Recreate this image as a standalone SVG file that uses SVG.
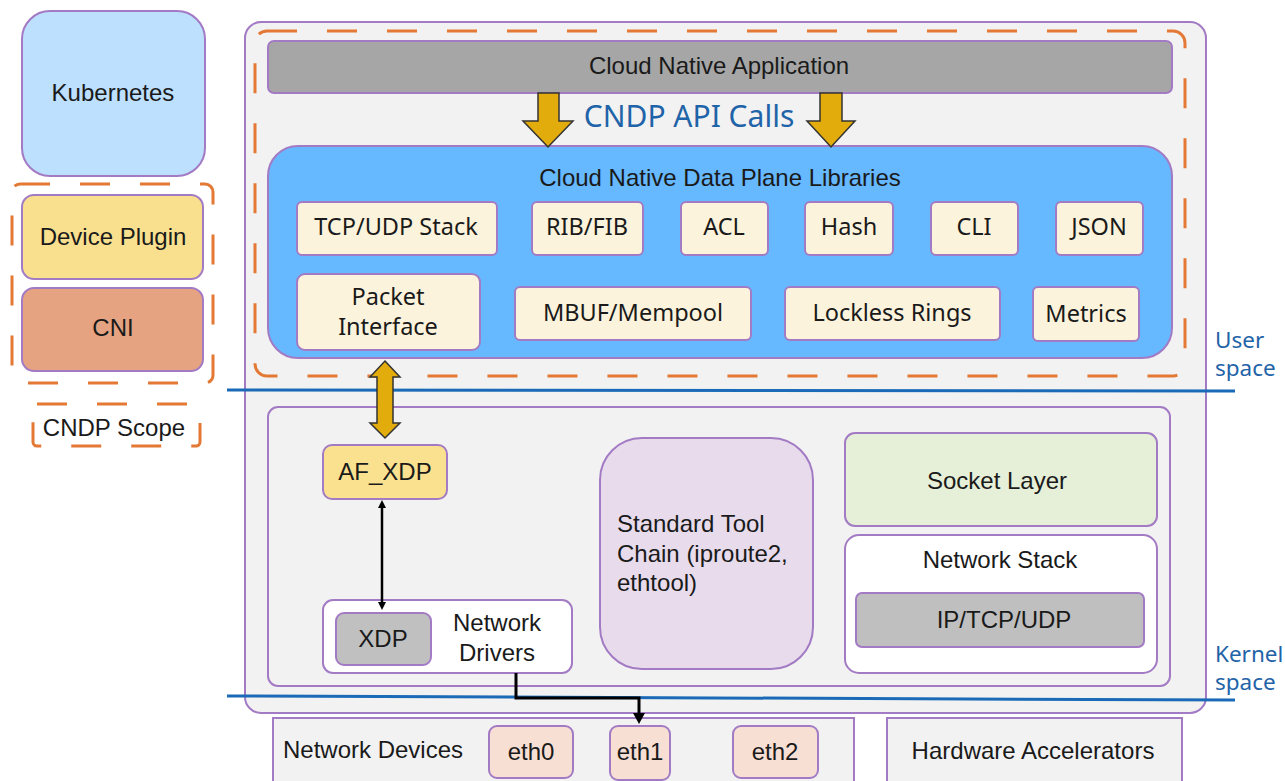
<svg xmlns="http://www.w3.org/2000/svg" width="1285" height="781" viewBox="0 0 1285 781">
  <style>
    .box { stroke: #a37bc4; stroke-width: 2; }
    .lib { fill: #fcf3dc; stroke: #a37bc4; stroke-width: 2; }
    .scope { fill: none; stroke: #e37935; stroke-width: 3; stroke-dasharray: 30 30; }
    .t { font-family: "Liberation Sans", Arial, sans-serif; font-size: 24px; fill: #1a1a1a; text-anchor: middle; }
    .ts { font-family: "Liberation Sans", Arial, sans-serif; font-size: 24px; fill: #1a1a1a; text-anchor: start; }
    .tl { font-family: "Noto Sans", "Open Sans", sans-serif; font-size: 23.5px; fill: #1a1a1a; text-anchor: middle; }
    .blue { font-family: "Noto Sans", "Open Sans", sans-serif; fill: #1f63a8; }
    .sep { stroke: #1a6ab8; stroke-width: 3; }
    .gold { fill: #e2ac0c; stroke: #333; stroke-width: 1.5; }
  </style>
  <defs>
    <marker id="ah" markerWidth="8" markerHeight="8" refX="4" refY="4" orient="auto-start-reverse" markerUnits="userSpaceOnUse">
      <path d="M0,0 L8,4 L0,8 z" fill="#000"/>
    </marker>
  </defs>
  <rect width="1285" height="781" fill="#ffffff"/>

  <!-- Orchestration column -->
  <g id="kubernetes"><rect class="box" x="22" y="11" width="183" height="165" rx="28" fill="#bde0fe"/><text class="t" x="113" y="101">Kubernetes</text></g>
  <g id="scope-frame"><rect class="scope" x="12" y="184" width="201" height="199" rx="8"/></g>
  <g id="device-plugin"><rect class="box" x="22" y="195" width="181" height="84" rx="12" fill="#f9e08f"/><text class="t" x="113" y="245">Device Plugin</text></g>
  <g id="cni"><rect class="box" x="22" y="288" width="181" height="83" rx="12" fill="#e6a381"/><text class="t" x="113" y="336">CNI</text></g>
  <g id="scope-legend"><rect class="scope" x="33" y="404" width="167" height="42" rx="4"/><text class="t" x="114" y="436">CNDP Scope</text></g>

  <!-- Host -->
  <g id="host"><rect class="box" x="245" y="22" width="961" height="691" rx="16" fill="#f2f2f2"/></g>
  <g id="user-scope"><rect class="scope" x="255" y="31" width="930" height="345" rx="12"/></g>
  <g id="app"><rect class="box" x="268" y="41" width="904" height="52" rx="6" fill="#a6a6a6"/><text class="t" x="719" y="74" font-size="27">Cloud Native Application</text></g>
  <text class="blue" x="689" y="127" font-size="30" text-anchor="middle">CNDP API Calls</text>

  <g id="libraries">
    <rect class="box" x="268" y="146" width="904" height="212" rx="30" fill="#66b8ff"/>
    <text class="t" x="720" y="186" font-size="27">Cloud Native Data Plane Libraries</text>
  </g>
  <g id="tcp-udp-stack"><rect class="lib" x="297" y="202" width="200" height="53" rx="5"/><text class="tl" x="396" y="235">TCP/UDP Stack</text></g>
  <g id="rib-fib"><rect class="lib" x="532" y="202" width="111" height="53" rx="5"/><text class="tl" x="587" y="235">RIB/FIB</text></g>
  <g id="acl"><rect class="lib" x="681" y="202" width="87" height="53" rx="5"/><text class="tl" x="724" y="235">ACL</text></g>
  <g id="hash"><rect class="lib" x="805" y="202" width="88" height="53" rx="5"/><text class="tl" x="849" y="235">Hash</text></g>
  <g id="cli"><rect class="lib" x="931" y="202" width="87" height="53" rx="5"/><text class="tl" x="974" y="235">CLI</text></g>
  <g id="json"><rect class="lib" x="1056" y="202" width="87" height="53" rx="5"/><text class="tl" x="1099" y="235">JSON</text></g>
  <g id="packet-interface"><rect class="lib" x="297" y="274" width="183" height="76" rx="8"/><text class="tl" x="388" y="305" font-size="21.5">Packet</text><text class="tl" x="388" y="335" font-size="21.5">Interface</text></g>
  <g id="mbuf-mempool"><rect class="lib" x="515" y="287" width="236" height="53" rx="5"/><text class="tl" x="633" y="321">MBUF/Mempool</text></g>
  <g id="lockless-rings"><rect class="lib" x="785" y="287" width="215" height="53" rx="5"/><text class="tl" x="892" y="321">Lockless Rings</text></g>
  <g id="metrics"><rect class="lib" x="1033" y="287" width="106" height="54" rx="5"/><text class="tl" x="1086" y="322">Metrics</text></g>

  <!-- Kernel -->
  <g id="kernel"><rect class="box" x="268" y="407" width="902" height="279" rx="10" fill="#f2f2f2"/></g>
  <g id="af-xdp"><rect class="box" x="323" y="445" width="124" height="54" rx="9" fill="#fae190"/><text class="t" x="385" y="480">AF_XDP</text></g>
  <g id="network-drivers">
    <rect class="box" x="323" y="600" width="249" height="73" rx="10" fill="#ffffff"/>
    <text class="t" x="497" y="631">Network</text><text class="t" x="497" y="661">Drivers</text>
  </g>
  <g id="xdp"><rect class="box" x="336" y="613" width="95" height="52" rx="8" fill="#c0c0c0"/><text class="t" x="383" y="647">XDP</text></g>
  <g id="tool-chain">
    <rect class="box" x="600" y="438" width="213" height="231" rx="42" fill="#e8dcec"/>
    <text class="ts" x="617" y="532">Standard Tool</text>
    <text class="ts" x="617" y="562">Chain (iproute2,</text>
    <text class="ts" x="617" y="591">ethtool)</text>
  </g>
  <g id="socket-layer"><rect class="box" x="845" y="433" width="312" height="93" rx="10" fill="#e6efd8"/><text class="t" x="997" y="489">Socket Layer</text></g>
  <g id="network-stack">
    <rect class="box" x="845" y="535" width="312" height="138" rx="14" fill="#ffffff"/>
    <text class="t" x="1000" y="568">Network Stack</text>
  </g>
  <g id="ip-tcp-udp"><rect class="box" x="856" y="593" width="288" height="54" rx="6" fill="#bfbfbf"/><text class="t" x="1004" y="628">IP/TCP/UDP</text></g>

  <!-- Devices -->
  <g id="network-devices"><rect class="box" x="273" y="718" width="581" height="70" fill="#f2f2f2"/><text class="ts" x="283" y="758">Network Devices</text></g>
  <g id="eth0"><rect class="box" x="489" y="726" width="84" height="52" rx="8" fill="#f8dfd4"/><text class="t" x="531" y="760">eth0</text></g>
  <g id="eth1"><rect class="box" x="610" y="726" width="60" height="54" rx="8" fill="#f8dfd4"/><text class="t" x="640" y="760">eth1</text></g>
  <g id="eth2"><rect class="box" x="733" y="726" width="85" height="52" rx="8" fill="#f8dfd4"/><text class="t" x="775" y="760">eth2</text></g>
  <g id="hw-accel"><rect class="box" x="887" y="718" width="295" height="70" fill="#f2f2f2"/><text class="t" x="1033" y="759">Hardware Accelerators</text></g>

  <!-- User / kernel boundaries -->
  <g id="boundaries">
    <line class="sep" x1="227" y1="390" x2="1235" y2="391"/>
    <line class="sep" x1="227" y1="696" x2="1235" y2="700"/>
    <text class="blue" x="1215" y="348" font-size="22.5">User</text>
    <text class="blue" x="1215" y="376" font-size="22.5">space</text>
    <text class="blue" x="1215" y="662" font-size="22.5">Kernel</text>
    <text class="blue" x="1215" y="690" font-size="22.5">space</text>
  </g>

  <!-- Connectors -->
  <g id="connectors">
    <path class="gold" d="M538,93 H559 V121 H573 L548,147 L523,121 H538 Z"/>
    <path class="gold" d="M820,93 H842 V121 H855 L831,147 L807,121 H820 Z"/>
    <path class="gold" d="M385,361 L400,377 H393 V423 H400 L385,438 L370,423 H377 V377 H370 Z"/>
    <line x1="382" y1="504" x2="382" y2="606" stroke="#000" stroke-width="2.5" marker-start="url(#ah)" marker-end="url(#ah)"/>
    <path d="M516,673 V698 H639 V716" fill="none" stroke="#000" stroke-width="3"/>
    <path d="M633,713 L645,713 L639,724 Z" fill="#000"/>
  </g>
</svg>
